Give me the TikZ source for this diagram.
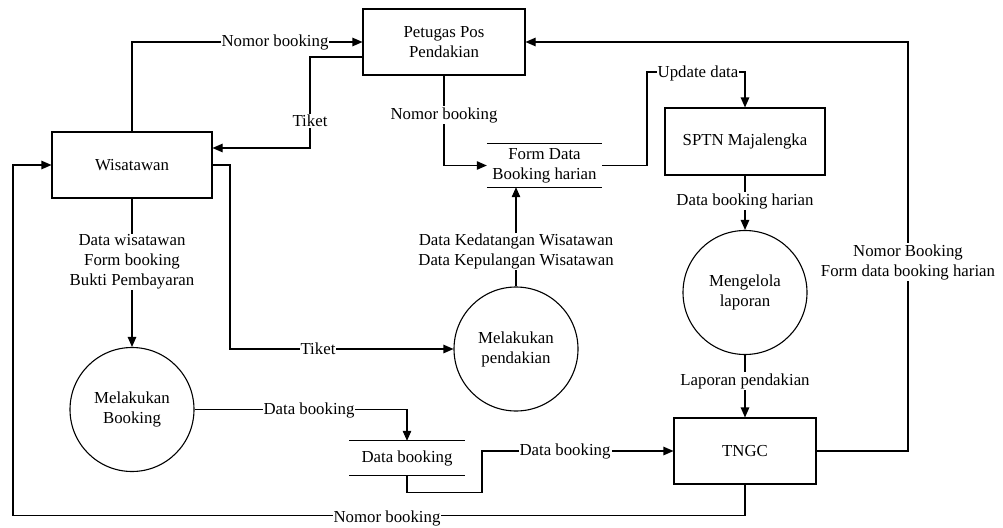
\documentclass[tikz,border=0pt]{standalone}
\usepackage{fontspec}
\setmainfont{Liberation Serif}
\newfontfamily\diagfont{Liberation Serif}
\usetikzlibrary{arrows.meta}
\begin{document}
\begin{tikzpicture}[x=1pt,y=-1pt,
  every node/.style={font=\diagfont\fontsize{16.8}{20}\selectfont},
  line/.style={line width=1.1pt, line join=miter},
  flow/.style={line, -{Triangle[length=10pt,width=8.5pt]}},
  entity/.style={draw, line width=1.1pt, minimum width=162pt, minimum height=66pt, inner sep=0pt, align=center},
  proc/.style={draw, circle, line width=1.1pt, minimum size=124pt, inner sep=0pt, align=center},
  store/.style={minimum width=115pt, minimum height=43pt, inner sep=0pt, align=center},
  lbl/.style={fill=white, inner xsep=1pt, inner ysep=1pt, align=center}]
\useasboundingbox (0,0) rectangle (1003,527);
\fill[white] (0,0) rectangle (1003,527);

% entities
\node[entity] (pet) at (444,42) {Petugas Pos\\Pendakian};
\node[entity, minimum width=160pt] (wis) at (132,165) {Wisatawan};
\node[entity, minimum width=160pt, minimum height=67pt] (sptn) at (745,141.5) {SPTN Majalengka};
\node[entity, minimum width=142pt] (tngc) at (745,451) {TNGC};

% processes
\node[proc] (booking) at (132,409.5) {Melakukan\\Booking};
\node[proc] (pendakian) at (516,349) {Melakukan\\pendakian};
\node[proc] (kelola) at (745,292.5) {Mengelola\\laporan};

% data stores
\node[store] (formstore) at (544.5,165.5) {Form Data\\Booking harian};
\node[store, minimum height=34pt] (dbstore) at (407,458) {Data booking};
\draw[line] (formstore.north west) -- (formstore.north east)
            (formstore.south west) -- (formstore.south east);
\draw[line] (dbstore.north west) -- (dbstore.north east)
            (dbstore.south west) -- (dbstore.south east);

% flows
\draw[flow] (wis.north) |- (pet.west);
\draw[flow] ([yshift=-15pt]pet.west) -- (310,57) |- ([yshift=17pt]wis.east);
\draw[flow] (pet.south) |- (formstore.west);
\draw[flow] (formstore.east) -| (647,72) -| (sptn.north);
\draw[flow] (sptn.south) -- (kelola.north);
\draw[flow] (kelola.south) -- (tngc.north);
\draw[flow] (wis.south) -- (booking.north);
\draw[flow] (wis.east) -| (230,349) -- (pendakian.west);
\draw[flow] (pendakian.north) -- (pendakian.north |- formstore.south);
\draw[flow] (booking.east) -| (dbstore.north);
\draw[flow] (dbstore.south) -- ++(0,17) -| (482,451) -- (tngc.west);
\draw[flow] (tngc.east) -| (908,42) -- (pet.east);
\draw[flow] (tngc.south) -- ++(0,31) -| (13,165) -- (wis.west);

% labels
\node[lbl] (t1) at (275,42) {Nomor booking};
\node[lbl] (t2) at (310,121) {Tiket};
\node[lbl] (t3) at (444,115) {Nomor booking};
\node[lbl] (t4) at (698,73) {Update data};
\node[lbl] (t5) at (745,201) {Data booking harian};
\node[lbl] (t6) at (745,381) {Laporan pendakian};
\node[lbl] (t7) at (132,262) {Data wisatawan\\Form booking\\Bukti Pembayaran};
\node[lbl] (t8) at (318,349) {Tiket};
\node[lbl] (t9) at (516,251.5) {Data Kedatangan Wisatawan\\Data Kepulangan Wisatawan};
\node[lbl] (t10) at (309,410) {Data booking};
\node[lbl] (t11) at (565,451) {Data booking};
\node[lbl] (t12) at (908,262) {Nomor Booking\\Form data booking harian};
\node[lbl] (t13) at (387,518) {Nomor booking};
\end{tikzpicture}
\end{document}
